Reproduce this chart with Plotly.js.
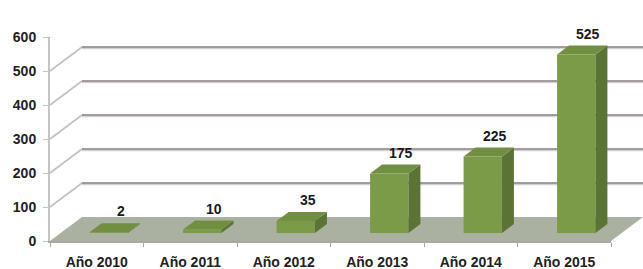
<!DOCTYPE html>
<html>
<head>
<meta charset="utf-8">
<script src="https://cdn.plot.ly/plotly-3.0.1.min.js"></script>
<style>html,body{margin:0;padding:0;background:#fff;}#chart{width:643px;height:269px;}</style>
</head>
<body>
<div id="chart"></div>
<script>
// ---- data ----
const categories = ['Año 2010', 'Año 2011', 'Año 2012', 'Año 2013', 'Año 2014', 'Año 2015'];
const values = [2, 10, 35, 175, 225, 525];
const yTickValues = [0, 100, 200, 300, 400, 500, 600];
const yTickLabels = ['0', '100', '200', '300', '400', '500', '600'];

// ---- geometry (pixels) ----
const W = 643, H = 269;
const ML = 50, MR = 32, MT = 37, MB = 28;
const plotW = W - ML - MR, plotH = H - MT - MB;
const yMax = 600;
const pxPerCat = plotW / categories.length;
const pxPerUnit = plotH / yMax;
const WALL_DX = 32, WALL_DY = 24;   // back wall depth offset
const BAR_SX = 12, BAR_SY = 8;      // bar front plane offset
const BAR_DX = 12, BAR_DY = 9;      // bar depth
const barWidth = 0.41;
const hw = barWidth * pxPerCat / 2;

const FONT = 'Liberation Sans, Arial, sans-serif';
const cFront = '#7c9b48', cSide = '#5b7436', cTop = '#718f40';

const shapes = [];
// left wall oblique lines + back wall gridlines
yTickValues.forEach(v => {
  if (v > 0) {
    shapes.push({type: 'line', layer: 'below', xref: 'paper', xsizemode: 'pixel', xanchor: 0, x0: 0, x1: WALL_DX,
      yref: 'y', ysizemode: 'pixel', yanchor: v, y0: 0, y1: WALL_DY, line: {color: '#c4c4c4', width: 2}});
    shapes.push({type: 'line', layer: 'below', xref: 'paper', xsizemode: 'pixel', xanchor: 0, x0: WALL_DX, x1: plotW + WALL_DX,
      yref: 'y', ysizemode: 'pixel', yanchor: v, y0: WALL_DY - 1.5, y1: WALL_DY - 1.5, line: {color: '#d2d2d2', width: 1.5}});
    shapes.push({type: 'line', layer: 'below', xref: 'paper', xsizemode: 'pixel', xanchor: 0, x0: WALL_DX, x1: plotW + WALL_DX,
      yref: 'y', ysizemode: 'pixel', yanchor: v, y0: WALL_DY, y1: WALL_DY, line: {color: '#877d7d', width: 1.5}});
  }
});
// floor
shapes.push({type: 'path', layer: 'below', xref: 'paper', xsizemode: 'pixel', xanchor: 0,
  yref: 'y', ysizemode: 'pixel', yanchor: 0,
  path: `M0,0 L${plotW},0 L${plotW + WALL_DX},${WALL_DY} L${WALL_DX},${WALL_DY} Z`,
  fillcolor: '#aab1a1', line: {width: 0}});

const dyData = BAR_DY / pxPerUnit;
categories.forEach((c, i) => {
  const v = values[i];
  // side face
  shapes.push({type: 'path', xref: 'x2', xsizemode: 'pixel', xanchor: i, yref: 'y2',
    path: `M${hw},0 L${hw + BAR_DX},${dyData} L${hw + BAR_DX},${v + dyData} L${hw},${v} Z`,
    fillcolor: cSide, line: {width: 0}});
  // top face
  shapes.push({type: 'path', xref: 'x2', xsizemode: 'pixel', xanchor: i, yref: 'y2',
    path: `M${-hw},${v} L${hw},${v} L${hw + BAR_DX},${v + dyData} L${-hw + BAR_DX},${v + dyData} Z`,
    fillcolor: cTop, line: {width: 0}});
});

const annotations = categories.map((c, i) => ({
  xref: 'x2', yref: 'y2', x: i, y: values[i], text: String(values[i]),
  showarrow: false, xanchor: 'center', yanchor: 'middle', xshift: 12, yshift: 21,
  font: {family: FONT, size: 14, color: '#1a1a1a', weight: 'bold'}
}));

const shiftX = BAR_SX / pxPerCat, shiftY = BAR_SY / pxPerUnit;

const data = [
  {type: 'bar', x: categories.map((c, i) => i), y: values, xaxis: 'x2', yaxis: 'y2',
   width: barWidth, marker: {color: cFront, line: {width: 0}}, hoverinfo: 'skip'},
  // invisible trace to keep main axes active
  {type: 'scatter', x: categories, y: values.map(() => null), xaxis: 'x', yaxis: 'y', mode: 'markers', hoverinfo: 'skip', showlegend: false}
];

const layout = {
  width: W, height: H,
  margin: {l: ML, r: MR, t: MT, b: MB, pad: 0},
  paper_bgcolor: '#ffffff', plot_bgcolor: 'rgba(0,0,0,0)',
  showlegend: false,
  xaxis: {type: 'category', categoryarray: categories, categoryorder: 'array', range: [-0.5, categories.length - 0.5],
    showgrid: false, zeroline: false, showline: true, linecolor: '#a8a8a8', linewidth: 1.5,
    ticks: 'outside', tickson: 'boundaries', ticklen: 4, tickcolor: '#a8a8a8',
    tickfont: {family: FONT, size: 14, color: '#222', weight: 'bold'}, ticklabelstandoff: 8, fixedrange: true},
  yaxis: {range: [0, yMax], tickvals: yTickValues, ticktext: yTickLabels,
    showgrid: false, zeroline: false, showline: true, linecolor: '#c4c4c4', linewidth: 2,
    ticks: 'outside', ticklen: 5, tickcolor: '#c4c4c4',
    tickfont: {family: FONT, size: 14, color: '#222', weight: 'bold'}, ticklabelstandoff: 4, fixedrange: true},
  xaxis2: {overlaying: 'x', type: 'linear', range: [-0.5 - shiftX, categories.length - 0.5 - shiftX], visible: false, fixedrange: true},
  yaxis2: {overlaying: 'y', range: [-shiftY, yMax - shiftY], visible: false, fixedrange: true},
  shapes: shapes,
  annotations: annotations
};

Plotly.newPlot('chart', data, layout, {displayModeBar: false, staticPlot: true});
</script>
</body>
</html>
